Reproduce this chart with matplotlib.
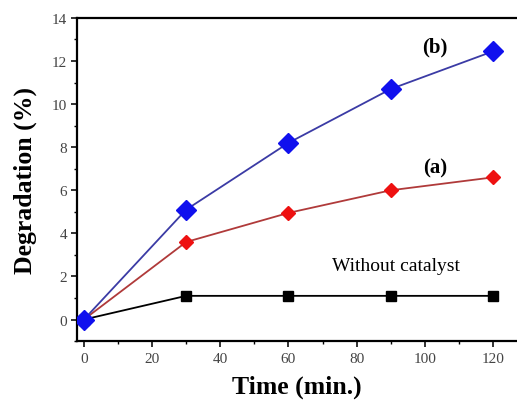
import numpy as np
import matplotlib
matplotlib.use("Agg")
import matplotlib.pyplot as plt
from matplotlib.ticker import MultipleLocator

time = [0, 30, 60, 90, 120]
without_catalyst = [0, 1.1, 1.1, 1.1, 1.1]
series_a = [0, 3.6, 4.95, 6.0, 6.6]
series_b = [0, 5.1, 8.2, 10.7, 12.45]

plt.rcParams['font.family'] = ['Liberation Serif', 'DejaVu Serif']

fig = plt.figure(figsize=(5.17, 4.02), dpi=100)
ax = fig.add_axes([0.149, 0.149, 0.851, 0.804])

ax.plot(time, without_catalyst, color='black', lw=1.3, zorder=2)
ax.plot(time, without_catalyst, 's', color='black', ms=7.5, zorder=3)
ax.plot(time, series_a, color='#b03a3a', lw=1.3, zorder=2)
ax.plot(time, series_a, 'D', color='#ee1111', ms=7, zorder=4)
ax.plot(time, series_b, color='#3b3ba5', lw=1.3, zorder=2)
ax.plot(time, series_b, 'D', color='#1010ee', ms=10, zorder=5)

ax.text(103, 12.65, '(b)', fontsize=15, fontweight='bold', ha='center', va='center')
ax.text(103, 7.05, '(a)', fontsize=15, fontweight='bold', ha='center', va='center')
ax.text(91.5, 2.5, 'Without catalyst', fontsize=14, ha='center', va='center')

ax.set_xlim(-2, 127)
ax.set_ylim(-1, 14)
ax.xaxis.set_major_locator(MultipleLocator(20))
ax.xaxis.set_minor_locator(MultipleLocator(10))
ax.yaxis.set_major_locator(MultipleLocator(2))
ax.yaxis.set_minor_locator(MultipleLocator(1))
ax.spines['right'].set_visible(False)
for s in ['left', 'bottom', 'top']:
    ax.spines[s].set_linewidth(1.6)
ax.tick_params(which='major', direction='out', length=4, width=1.3, labelsize=11, colors='#222222', labelcolor='#444444')
ax.tick_params(which='minor', direction='out', length=2, width=1.0)
ax.tick_params(axis='y', pad=3)
ax.tick_params(top=False, right=False)

ax.set_xlabel('Time (min.)', fontsize=18.5, fontweight='bold', labelpad=7)
ax.set_ylabel('Degradation (%)', fontsize=18.5, fontweight='bold', labelpad=11)

fig.savefig('out.png', dpi=100)
